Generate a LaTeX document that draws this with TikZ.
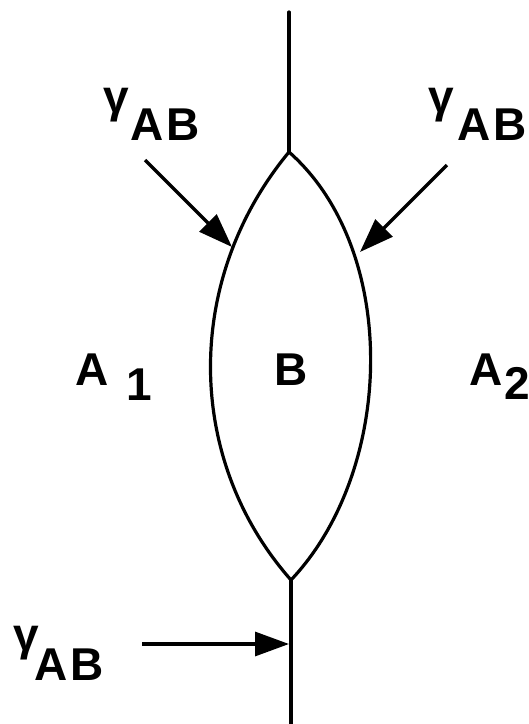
\documentclass[tikz,border=0pt]{standalone}
\usepackage{fontspec}
\setmainfont{Liberation Sans}
\usetikzlibrary{arrows.meta}

\begin{document}
\begin{tikzpicture}[x=0.5pt,y=-0.5pt,
  lbl/.style={font=\fontsize{23}{26}\selectfont\bfseries, inner sep=0pt, anchor=base west},
  wall/.style={line width=1.6pt, line cap=round},
  push/.style={line width=1.6pt, -{Triangle[length=17pt,width=12pt]}}]
                \useasboundingbox (0,0) rectangle (529,724);
                % junctions and free ends
                \coordinate (topend) at (289,12);
                \coordinate (tj) at (289,152);
                \coordinate (bj) at (291,580);
                \coordinate (botend) at (291,724);
                \draw[wall] (topend) -- (tj);
                \draw[wall] (bj) -- (botend);
                \draw[wall] (tj) .. controls (183,280) and (185,460) .. (bj);
                \draw[wall] (tj) .. controls (400,250) and (395,470) .. (bj);
                % tensions
                \coordinate (inL) at (145,160);
                \coordinate (hitL) at (232,247);
                \coordinate (inR) at (447,165);
                \coordinate (hitR) at (360,252);
                \coordinate (inB) at (142,644);
                \coordinate (hitB) at (289,644);
                \draw[push] (inL) -- (hitL);
                \draw[push] (inR) -- (hitR);
                \draw[push] (inB) -- (hitB);
                \node[lbl] (gamL) at (103,140) {\raisebox{14pt}{γ}\kern1pt A\kern1pt B};
                \node[lbl] (gamR) at (428,140) {\raisebox{14pt}{γ}\kern2pt A\kern1pt B};
                \node[lbl] (gamB) at (13,680) {\raisebox{15pt}{γ}\kern-2pt A\kern1pt B};
                % phases
                \node[lbl] (phA1) at (75,385) {A\kern9pt\raisebox{-7.5pt}{1}};
                \node[lbl] (phB) at (274,385) {B};
                \node[lbl] (phA2) at (469,385) {A\kern1pt\raisebox{-7pt}{2}};
            \end{tikzpicture}
\end{document}
